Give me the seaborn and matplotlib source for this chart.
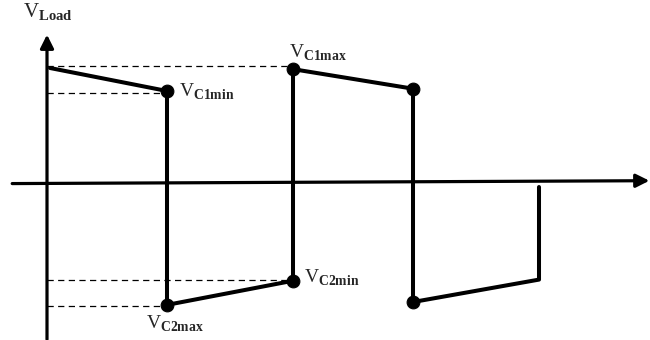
import numpy as np
import matplotlib
matplotlib.use("Agg")
import matplotlib.pyplot as plt
import seaborn as sns

sns.set_style("white")
plt.rcParams['font.family'] = ['Liberation Serif', 'DejaVu Serif']
plt.rcParams['mathtext.fontset'] = 'custom'
plt.rcParams['mathtext.rm'] = 'Liberation Serif'
plt.rcParams['mathtext.bf'] = 'Liberation Serif:bold'

# load voltage waveform (time in periods, voltage normalised)
wave_t = np.array([0.025, 1.0, 1.0, 2.05, 2.05, 3.05, 3.05, 4.1, 4.1])
wave_v = np.array([1.0, 0.80, -1.06, -0.85, 0.99, 0.82, -1.035, -0.84, -0.035])

# switching points marked with dots
dot_t = np.array([1.0, 1.0, 2.05, 2.05, 3.05, 3.05])
dot_v = np.array([0.80, -1.06, -0.85, 0.99, 0.82, -1.035])

# dashed reference levels (level, end time)
ref_v = [1.017, 0.783, -0.843, -1.07]
ref_end = [2.05, 1.0, 2.05, 1.0]

fig = plt.figure(figsize=(6.5, 3.4), dpi=100)
ax = fig.add_axes([0, 0, 1, 1])
ax.set_xlim(-47 / 120, 603 / 120)
ax.set_ylim(-157 / 115, 183 / 115)
ax.axis("off")

# dashed guide lines
for lv, te in zip(ref_v, ref_end):
    ax.plot([0, te], [lv, lv], color="black", lw=0.9, ls=(0, (5, 3.5)))

# axes with arrow heads
arr = dict(arrowstyle="-|>", lw=2.3, color="black", mutation_scale=20,
           shrinkA=0, shrinkB=0)
ax.annotate("", xy=(0, 1.29), xytext=(0, -1.36), arrowprops=arr,
            annotation_clip=False)
ax.annotate("", xy=(5.02, 0.02), xytext=(-0.29, -0.005), arrowprops=arr,
            annotation_clip=False)

sns.lineplot(x=wave_t, y=wave_v, sort=False, estimator=None, color="black",
             lw=2.9, ax=ax)
sns.scatterplot(x=dot_t, y=dot_v, color="black", s=85, edgecolor="black",
                zorder=5, ax=ax)

ax.text(-0.2, 1.443, r"$\mathrm{V}_{\mathbf{Load}}$", fontsize=15,
        ha="left", va="baseline")
ax.text(1.1, 0.748, r"$\mathrm{V}_{\mathbf{C1min}}$", fontsize=14,
        ha="left", va="baseline")
ax.text(2.015, 1.087, r"$\mathrm{V}_{\mathbf{C1max}}$", fontsize=14,
        ha="left", va="baseline")
ax.text(2.145, -0.87, r"$\mathrm{V}_{\mathbf{C2min}}$", fontsize=14,
        ha="left", va="baseline")
ax.text(0.825, -1.27, r"$\mathrm{V}_{\mathbf{C2max}}$", fontsize=14,
        ha="left", va="baseline")

fig.savefig("out.png", dpi=100)
